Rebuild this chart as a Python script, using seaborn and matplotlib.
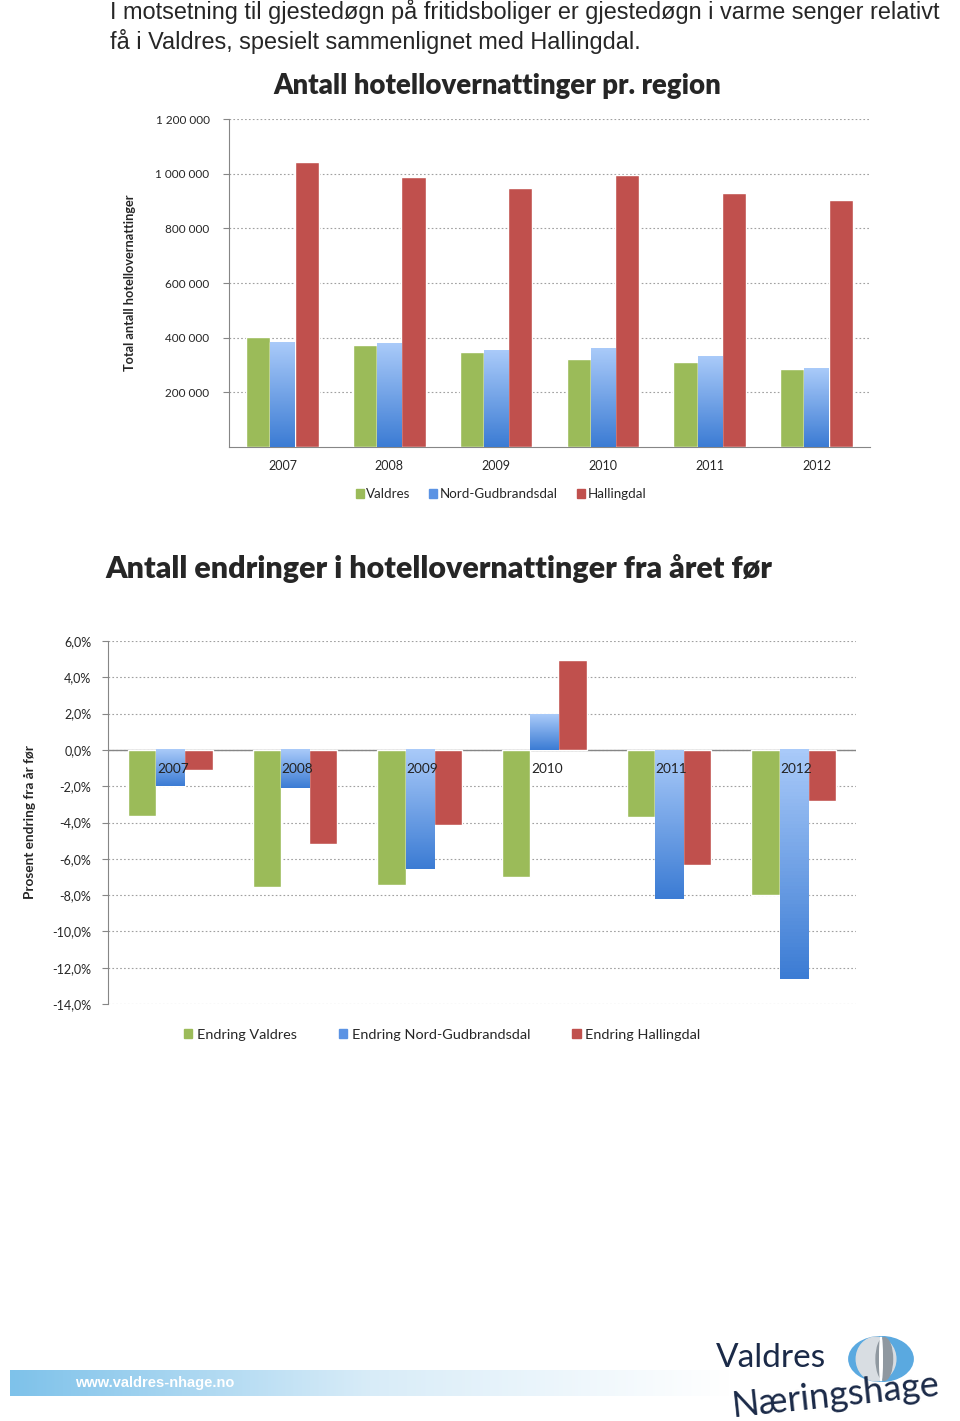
import numpy as np
import pandas as pd
import seaborn as sns
import matplotlib.pyplot as plt
from matplotlib.colors import LinearSegmentedColormap
from matplotlib.patches import Patch, Ellipse

# data
years = ['2007', '2008', '2009', '2010', '2011', '2012']
regions = ['Valdres', 'Nord-Gudbrandsdal', 'Hallingdal']
valdres = [404000, 375000, 349000, 321000, 311000, 284000]
nord_gudbrandsdal = [384000, 378000, 353000, 359000, 331000, 288000]
hallingdal = [1044000, 987000, 946000, 995000, 930000, 904000]

change_labels = ['Endring Valdres', 'Endring Nord-Gudbrandsdal', 'Endring Hallingdal']
chg_valdres = [-3.66, -7.56, -7.47, -7.01, -3.71, -8.01]
chg_nord = [-2.01, -2.10, -6.57, 1.98, -8.19, -12.63]
chg_halling = [-1.13, -5.18, -4.15, 4.94, -6.35, -2.80]

green, red = '#9bbb59', '#c0504d'
blue_cmap = LinearSegmentedColormap.from_list('bl', ['#a9caf9', '#3c7cd4'])

sns.set_style('white')
plt.rcParams['font.family'] = ['Lato', 'DejaVu Sans']

W, H = 960, 1421
fig = plt.figure(figsize=(W / 100, H / 100), dpi=100)


def box(l, t, r, b):
    return [l / W, 1 - b / H, (r - l) / W, (b - t) / H]


def gradient_bars(ax, bars):
    for p in bars:
        x, y, w, h = p.get_x(), p.get_y(), p.get_width(), p.get_height()
        lo, hi = min(y, y + h), max(y, y + h)
        ax.imshow(np.linspace(0, 1, 64).reshape(-1, 1), cmap=blue_cmap,
                  extent=[x, x + w, lo, hi], origin='upper', aspect='auto',
                  zorder=p.get_zorder(), clip_path=p)
        p.set_facecolor('none')


# paragraph text
fig.text(110 / W, 1 - 12 / H, 'I motsetning til gjestedøgn på fritidsboliger er gjestedøgn i varme senger relativt',
         family='Liberation Sans', fontsize=16.9, va='center', ha='left')
fig.text(110 / W, 1 - 42 / H, 'få i Valdres, spesielt sammenlignet med Hallingdal.',
         family='Liberation Sans', fontsize=16.9, va='center', ha='left')

# ---- top chart ----
df1 = pd.DataFrame({'year': years * 3,
                    'region': np.repeat(regions, len(years)),
                    'value': valdres + nord_gudbrandsdal + hallingdal})
ax1 = fig.add_axes(box(229, 119, 870, 447))
sns.barplot(data=df1, x='year', y='value', hue='region', hue_order=regions,
            palette=[green, '#6a9ee8', red], saturation=1, width=0.68,
            errorbar=None, legend=False, ax=ax1, zorder=3)
gradient_bars(ax1, ax1.containers[1])
ax1.set_xlim(-0.5, 5.5)
ax1.set_ylim(0, 1200000)
ticks = [200000, 400000, 600000, 800000, 1000000, 1200000]
ax1.set_yticks(ticks, [f'{t:,}'.replace(',', ' ') for t in ticks])
ax1.yaxis.grid(True, linestyle=(0, (1.5, 2)), color='#a0a0a0', lw=0.8)
ax1.set_axisbelow(True)
ax1.set_xlabel('')
ax1.set_ylabel('Total antall hotellovernattinger', fontsize=9.2, fontweight='bold', labelpad=14)
ax1.set_xticks(np.arange(-0.5, 6, 1), minor=True)
ax1.tick_params(axis='x', which='major', length=0, labelsize=9, pad=9)
ax1.tick_params(axis='x', which='minor', length=5, color='#868686')
ax1.tick_params(axis='y', length=4, color='#868686', left=True, labelsize=8.5, pad=10)
for s in ['top', 'right']:
    ax1.spines[s].set_visible(False)
for s in ['left', 'bottom']:
    ax1.spines[s].set_color('#868686')
fig.text(497 / W, 1 - 86 / H, 'Antall hotellovernattinger pr. region', fontsize=19.8,
         fontweight='heavy', ha='center', va='center')
fig.legend(handles=[Patch(color=green, label='Valdres'), Patch(color='#5b93e4', label='Nord-Gudbrandsdal'),
                    Patch(color=red, label='Hallingdal')],
           loc='center', bbox_to_anchor=(501 / W, 1 - 494 / H), ncol=3, frameon=False,
           fontsize=9.6, handlelength=0.6, handleheight=0.6, handletextpad=0.2, columnspacing=1.4)

# ---- bottom chart ----
df2 = pd.DataFrame({'year': years * 3,
                    'kind': np.repeat(change_labels, len(years)),
                    'value': chg_valdres + chg_nord + chg_halling})
ax2 = fig.add_axes(box(108, 641, 856, 1004))
sns.barplot(data=df2, x='year', y='value', hue='kind', hue_order=change_labels,
            palette=[green, '#6a9ee8', red], saturation=1, width=0.68,
            errorbar=None, legend=False, ax=ax2, zorder=3)
gradient_bars(ax2, ax2.containers[1])
ax2.set_xlim(-0.5, 5.5)
ax2.set_ylim(-14, 6)
pt = np.arange(-14, 7, 2)
ax2.set_yticks(pt, [f'{t:.1f}%'.replace('.', ',') for t in pt])
ax2.yaxis.grid(True, linestyle=(0, (1.5, 2)), color='#a0a0a0', lw=0.8)
ax2.set_axisbelow(True)
ax2.axhline(0, color='#868686', lw=1, zorder=2)
ax2.set_xticks([])
for i, y in enumerate(years):
    ax2.text(i + 0.02, -1.05, y, ha='center', va='center', fontsize=9.8, color='#222222', zorder=5)
ax2.set_xlabel('')
ax2.set_ylabel('Prosent endring fra år før', fontsize=9.8, fontweight='bold', labelpad=12)
ax2.tick_params(axis='y', length=4, color='#868686', left=True, labelsize=9, pad=8)
for s in ['top', 'right', 'bottom']:
    ax2.spines[s].set_visible(False)
ax2.spines['left'].set_color('#868686')
fig.text(105 / W, 1 - 569 / H, 'Antall endringer i hotellovernattinger fra året før', fontsize=21.9,
         fontweight='heavy', ha='left', va='center')
fig.legend(handles=[Patch(color=green, label=change_labels[0]), Patch(color='#5b93e4', label=change_labels[1]),
                    Patch(color=red, label=change_labels[2])],
           loc='center', bbox_to_anchor=(442 / W, 1 - 1035 / H), ncol=3, frameon=False,
           fontsize=10.4, handlelength=0.6, handleheight=0.6, handletextpad=0.3, columnspacing=2.9)

# ---- footer band and logo ----
band = fig.add_axes(box(10, 1370, 730, 1396))
band.imshow(np.linspace(0, 1, 256).reshape(1, -1),
            cmap=LinearSegmentedColormap.from_list('band', ['#7ec2ea', '#d8ecf8', '#ffffff']),
            aspect='auto', extent=[0, 1, 0, 1])
band.axis('off')
fig.text(75 / W, 1 - 1383 / H, 'www.valdres-nhage.no', color='white', fontsize=10.5,
         fontweight='bold', family='Liberation Sans', va='center')
fig.text(716 / W, 1 - 1358 / H, 'Valdres', color='#1b2a48', fontsize=24, va='center', ha='left')
fig.text(836 / W, 1 - 1396 / H, 'Næringshage', color='#1b2a48', fontsize=26, va='center',
         ha='center', rotation=6)
logo = fig.add_axes(box(848, 1336, 914, 1382))
logo.set_xlim(-1, 1)
logo.set_ylim(-1, 1)
logo.add_patch(Ellipse((0, 0), 1.95, 1.95, color='#5aa9e0'))
logo.add_patch(Ellipse((-0.15, 0), 1.2, 1.9, color='#d8dde2'))
logo.add_patch(Ellipse((0.1, 0), 0.5, 1.85, color='#8f98a0'))
logo.add_patch(Ellipse((0.0, 0), 0.08, 1.9, color='white'))
logo.axis('off')

fig.savefig('out.png', dpi=100)
